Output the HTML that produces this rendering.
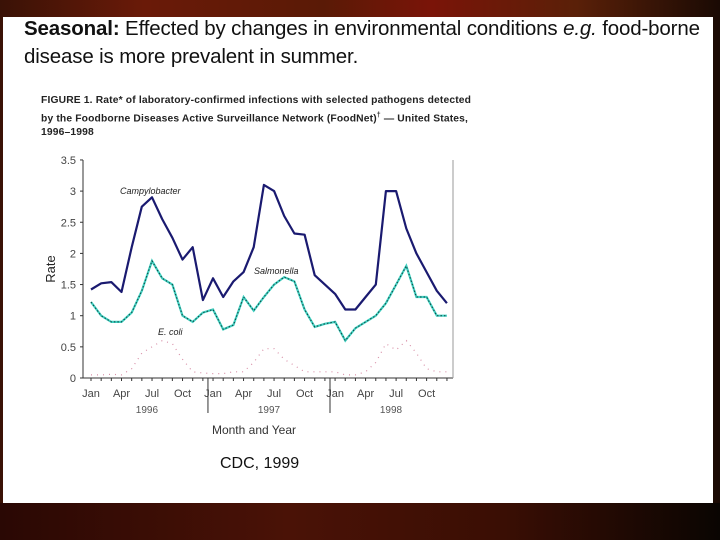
<!DOCTYPE html>
<html><head><meta charset="utf-8"><style>
body{margin:0;width:720px;height:540px;overflow:hidden;background:linear-gradient(90deg,#3a1206 0%,#6a1a08 20%,#5a1a06 45%,#7a1408 60%,#5a2008 80%,#1a0a04 100%);font-family:"Liberation Sans",sans-serif;}
#slide{position:absolute;left:3px;top:17px;width:710px;height:486px;background:#fff;}
#bottom{position:absolute;left:0;top:503px;width:720px;height:37px;background:linear-gradient(90deg,#2a0804,#4a1206 40%,#3a0e04 70%,#0a0502);}
.t{position:absolute;white-space:nowrap;color:#111;}
</style></head><body>
<div id="bottom"></div>
<div id="slide"></div>
<div class="t" style="left:24px;top:17px;font-size:20.5px;letter-spacing:-0.15px"><b>Seasonal:</b> Effected by changes in environmental conditions <i>e.g.</i> food-borne</div>
<div class="t" style="left:24px;top:45px;font-size:20.5px;letter-spacing:-0.15px">disease is more prevalent in summer.</div>
<div class="t" style="left:41px;top:94px;font-size:10.3px;line-height:14.5px;font-weight:bold;color:#222;letter-spacing:0.15px">FIGURE 1. Rate* of laboratory-confirmed infections with selected pathogens detected<br>by the Foodborne Diseases Active Surveillance Network (FoodNet)<sup style="font-size:7px">†</sup> — United States,<br>1996–1998</div>
<div class="t" style="left:220px;top:455px;font-size:16px">CDC, 1999</div>
<svg id="chart" width="720" height="540" style="position:absolute;left:0;top:0"></svg>
<script>
const months=["Jan","Apr","Jul","Oct"];
const years=["1996","1997","1998"];
const yTicks=[0,0.5,1,1.5,2,2.5,3,3.5];
const campylobacter=[1.42,1.52,1.54,1.38,2.1,2.75,2.9,2.55,2.25,1.9,2.1,1.25,1.6,1.3,1.55,1.7,2.1,3.1,3.0,2.6,2.32,2.3,1.65,1.5,1.35,1.1,1.1,1.3,1.5,3.0,3.0,2.4,2.0,1.7,1.4,1.2];
const salmonella=[1.22,1.0,0.9,0.9,1.05,1.4,1.88,1.6,1.5,1.0,0.9,1.05,1.1,0.78,0.85,1.3,1.08,1.3,1.5,1.62,1.55,1.1,0.82,0.87,0.9,0.6,0.8,0.9,1.0,1.2,1.5,1.8,1.3,1.3,1.0,1.0];
const ecoli=[0.05,0.05,0.06,0.05,0.15,0.4,0.5,0.6,0.55,0.3,0.1,0.08,0.07,0.07,0.1,0.1,0.25,0.47,0.47,0.3,0.2,0.1,0.1,0.1,0.1,0.05,0.05,0.1,0.25,0.55,0.45,0.6,0.4,0.15,0.1,0.1];
const svg=document.getElementById('chart');const NS='http://www.w3.org/2000/svg';
const X0=91,DX=10.17,Y0=378,SY=62.3;
const xs=i=>X0+i*DX, ys=v=>Y0-v*SY;
function mk(tag,attrs,txt){const e=document.createElementNS(NS,tag);for(const k in attrs)e.setAttribute(k,attrs[k]);if(txt!==undefined)e.textContent=txt;svg.appendChild(e);return e;}
let e;
e=mk('line',{x1:83,y1:ys(3.5),x2:83,y2:Y0,stroke:'#333','stroke-width':1});

e=mk('line',{x1:83,y1:Y0,x2:453,y2:Y0,stroke:'#333','stroke-width':1});

e=mk('line',{x1:453,y1:ys(3.5),x2:453,y2:Y0,stroke:'#999','stroke-width':1});

yTicks.forEach(v=>{
 e=mk('line',{x1:80,y1:ys(v),x2:83,y2:ys(v),stroke:'#333'});
 
 e=mk('text',{x:76,y:ys(v)+4,'text-anchor':'end','font-size':11,fill:'#444','font-family':'Liberation Sans'},String(v));
 
});
for(let i=0;i<36;i++){e=mk('line',{x1:xs(i),y1:Y0,x2:xs(i),y2:Y0+3,stroke:'#333'});
 }
years.forEach((y,yi)=>{
 months.forEach((m,mi)=>{e=mk('text',{x:xs(yi*12+mi*3),y:397,'text-anchor':'middle','font-size':11,fill:'#444','font-family':'Liberation Sans'},m);
  });
 e=mk('text',{x:xs(yi*12+5.5),y:413,'text-anchor':'middle','font-size':10,fill:'#555','font-family':'Liberation Sans'},y);
 
 if(yi>0){e=mk('line',{x1:xs(yi*12-0.5),y1:Y0,x2:xs(yi*12-0.5),y2:413,stroke:'#333'});
  }
});
e=mk('text',{x:254,y:434,'text-anchor':'middle','font-size':12,fill:'#333','font-family':'Liberation Sans'},'Month and Year');

e=mk('text',{x:55,y:269,'text-anchor':'middle','font-size':13,fill:'#222','font-family':'Liberation Sans',transform:'rotate(-90 55 269)'},'Rate');

const pts=a=>a.map((v,i)=>xs(i).toFixed(1)+','+ys(v).toFixed(1)).join(' ');
e=mk('polyline',{points:pts(ecoli),fill:'none',stroke:'#d890a8','stroke-width':1.2,'stroke-dasharray':'1 5'});

e=mk('polyline',{points:pts(salmonella),fill:'none',stroke:'#40d0c0','stroke-width':2.2});

e=mk('polyline',{points:pts(salmonella),fill:'none',stroke:'#104040','stroke-width':1,'stroke-dasharray':'1.5 2'});

e=mk('polyline',{points:pts(campylobacter),fill:'none',stroke:'#1a1a70','stroke-width':2.2,'stroke-linejoin':'round'});

e=mk('text',{x:120,y:194,'font-size':9,'font-style':'italic',fill:'#222','font-family':'Liberation Sans'},'Campylobacter');

e=mk('text',{x:254,y:274,'font-size':9,'font-style':'italic',fill:'#222','font-family':'Liberation Sans'},'Salmonella');

e=mk('text',{x:158,y:335,'font-size':9,'font-style':'italic',fill:'#222','font-family':'Liberation Sans'},'E. coli');

</script>
</body></html>
